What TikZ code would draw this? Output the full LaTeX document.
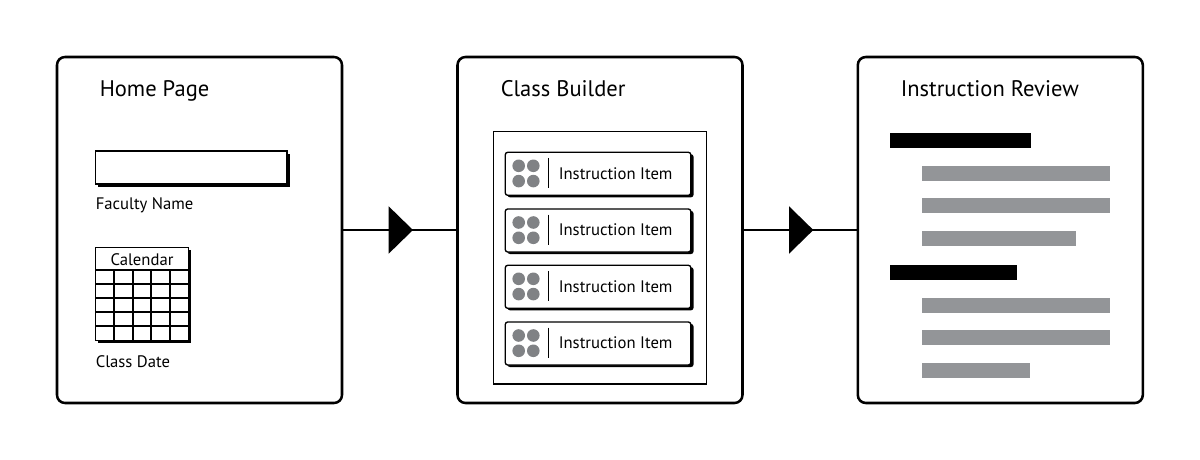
\documentclass[tikz,border=0pt]{standalone}
\usepackage{fontspec}
\setmainfont{PT Sans}
\usetikzlibrary{arrows.meta,decorations.markings}
\tikzset{
  panel/.style={draw=black,line width=1.9pt,rounded corners=6pt,fill=white,minimum width=213.75pt,minimum height=259.5pt,inner sep=0pt},
  flow/.style={draw=black,line width=1.9pt,postaction={decorate},decoration={markings,mark=at position 0.617 with {\arrow[line width=0pt]{Triangle[length=18.2pt,width=35.5pt]}}}},
  title/.style={anchor=base west,inner sep=0pt,font=\fontsize{16.9pt}{18pt}\selectfont},
  small/.style={anchor=base west,inner sep=0pt,font=\fontsize{12.5pt}{14pt}\selectfont},
  thin box/.style={draw=black,line width=1pt,fill=white},
  shadow/.style={fill=black,draw=none},
  gridline/.style={draw=black,line width=1.4pt},
  itembox/.style={draw=black,line width=1pt,fill=white,rounded corners=1.8pt},
  itemshadow/.style={fill=black,draw=none,rounded corners=1.8pt},
  dot/.style={fill=dotgrey,draw=none},
  blackbar/.style={fill=black,draw=none},
  greybar/.style={fill=bargrey,draw=none}
}
\definecolor{dotgrey}{HTML}{808285}
\definecolor{bargrey}{HTML}{939598}
\newcommand{\instritem}[2]{%
  \fill[itemshadow] (507.5,#1+2) rectangle (693.5,#1+45);
  \draw[itembox] (505.3,#1) rectangle (690.8,#1+43);
  \fill[dot] (518.7,#1+13.5) circle (6.3);
  \fill[dot] (533.3,#1+13.5) circle (6.3);
  \fill[dot] (518.7,#1+28.8) circle (6.3);
  \fill[dot] (533.3,#1+28.8) circle (6.3);
  \draw[line width=1pt] (548.7,#1+5.5) -- (548.7,#1+36);
  \node[small] (#2) at (558.5,#1+26.7) {Instruction Item};
}
\begin{document}
\begin{tikzpicture}[x=0.75pt,y=-0.75pt]
\useasboundingbox (0,0) rectangle (1200,460);
\fill[white] (0,0) rectangle (1200,460);
\node[panel] (home) at (199.5,230) {};
\node[panel] (builder) at (600,230) {};
\node[panel] (review) at (1000.3,230) {};
\draw[flow] (home) -- (builder);
\draw[flow] (builder) -- (review);
% Home page
\node[title] (hometitle) at (99.5,97) {Home Page};
\fill[shadow] (98,154) rectangle (289.6,186.8);
\draw[thin box] (95.5,151) rectangle (287,184);
\node[small] (faculty) at (95.5,209) {Faculty Name};
\fill[shadow] (98,250) rectangle (190.6,342.8);
\draw[thin box] (95.5,247.3) rectangle (188.7,340.7);
\foreach \yy in {270,284.3,298.3,312.3,326.3} \draw[gridline] (95.5,\yy) -- (188.7,\yy);
\foreach \xx in {114,132.7,151.3,170} \draw[gridline] (\xx,270) -- (\xx,340.7);
\node[small,anchor=base] (calendar) at (142,265) {Calendar};
\node[small] (classdate) at (95.5,367) {Class Date};
% Builder
\node[title] (buildertitle) at (500.5,97) {Class Builder};
\draw[thin box] (493.5,131.5) rectangle (706.5,384);
\instritem{152.3}{itema}
\instritem{209}{itemb}
\instritem{265.3}{itemc}
\instritem{322}{itemd}
% Review
\node[title] (reviewtitle) at (900.5,97) {Instruction Review};
\fill[blackbar] (890,133) rectangle (1031,148);
\fill[greybar] (922,166) rectangle (1110,181);
\fill[greybar] (922,198) rectangle (1110,213);
\fill[greybar] (922,231) rectangle (1076,246);
\fill[blackbar] (890,265) rectangle (1017,280);
\fill[greybar] (922,298) rectangle (1110,313);
\fill[greybar] (922,330) rectangle (1110,345);
\fill[greybar] (922,363) rectangle (1030,378);
\end{tikzpicture}
\end{document}
